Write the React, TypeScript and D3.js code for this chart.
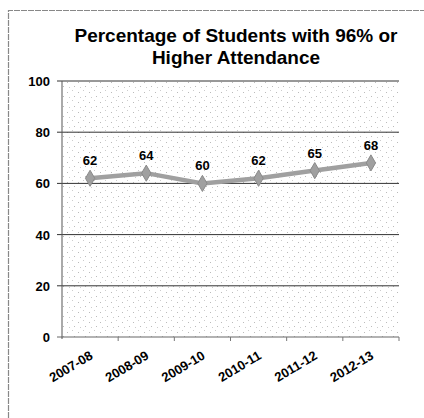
import React from "react";
import * as d3 from "d3";

const categories = ["2007-08", "2008-09", "2009-10", "2010-11", "2011-12", "2012-13"];
const values = [62, 64, 60, 62, 65, 68];
const yTicks = [0, 20, 40, 60, 80, 100];
const titleLines = ["Percentage of Students with 96% or", "Higher Attendance"];

export default function App() {
  const W = 424, H = 418;
  const left = 62, right = 399, top = 81, bottom = 337;
  const x = d3.scaleBand<string>().domain(categories).range([left, right]);
  const y = d3.scaleLinear().domain([0, 100]).range([bottom, top]);
  const line = d3.line<number>()
    .x((_, i) => (x(categories[i]) as number) + x.bandwidth() / 2)
    .y((d) => y(d));
  const font = "'Liberation Sans', Arial, sans-serif";
  const diamond = d3.symbol().type(d3.symbolDiamond).size(75)() as string;
  return (
    <svg width={W} height={H} style={{ position: "absolute", left: 0, top: 0, background: "#fff" }}>
      <defs>
        <pattern id="stip" width="11" height="10" patternUnits="userSpaceOnUse">
          <rect x="1" y="2" width="1" height="1" fill="#bbb" />
          <rect x="6" y="0" width="1" height="1" fill="#ccc" />
          <rect x="8" y="6" width="1" height="1" fill="#bbb" />
          <rect x="3" y="7" width="1" height="1" fill="#ccc" />
        </pattern>
      </defs>
      <path d={`M8.5,${H} V10.5 H${W}`} fill="none" stroke="#888" strokeWidth={1.2} strokeDasharray="6 1" />
      <rect x={left} y={top} width={right - left} height={bottom - top} fill="url(#stip)" />
      {titleLines.map((t, i) => (
        <text key={i} x={236} y={42 + i * 22} textAnchor="middle" fontFamily={font} fontWeight="bold" fontSize={19} fill="#000">{t}</text>
      ))}
      {yTicks.map((t) => (
        <g key={t}>
          <line x1={left - 5} x2={right} y1={y(t)} y2={y(t)} stroke={t === 0 ? "#666" : "#333"} strokeWidth={1} />
          <text x={50} y={y(t) + 5} textAnchor="end" fontFamily={font} fontWeight="bold" fontSize={13} fill="#000">{t}</text>
        </g>
      ))}
      <line x1={left} x2={left} y1={top} y2={bottom + 2} stroke="#555" strokeWidth={1} />
      {categories.map((c, i) => (
        <line key={"tk" + i} x1={(x(c) as number) + x.bandwidth()} x2={(x(c) as number) + x.bandwidth()} y1={bottom} y2={bottom + 4} stroke="#777" />
      ))}
      {categories.map((c) => {
        const cx = (x(c) as number) + x.bandwidth() / 2 + 3.5;
        return (
          <text key={"xl" + c} transform={`translate(${cx},${bottom + 21}) rotate(-31)`} textAnchor="end" fontFamily={font} fontWeight="bold" fontSize={13} fill="#000">{c}</text>
        );
      })}
      <path d={line(values) as string} fill="none" stroke="#a0a0a0" strokeWidth={4.5} />
      {values.map((v, i) => {
        const cx = (x(categories[i]) as number) + x.bandwidth() / 2;
        return (
          <g key={"p" + i}>
            <path d={diamond} transform={`translate(${cx},${y(v)})`} fill="#a0a0a0" stroke="#8a8a8a" />
            <text x={cx} y={y(v) - 13} textAnchor="middle" fontFamily={font} fontWeight="bold" fontSize={13} fill="#000">{v}</text>
          </g>
        );
      })}
    </svg>
  );
}
